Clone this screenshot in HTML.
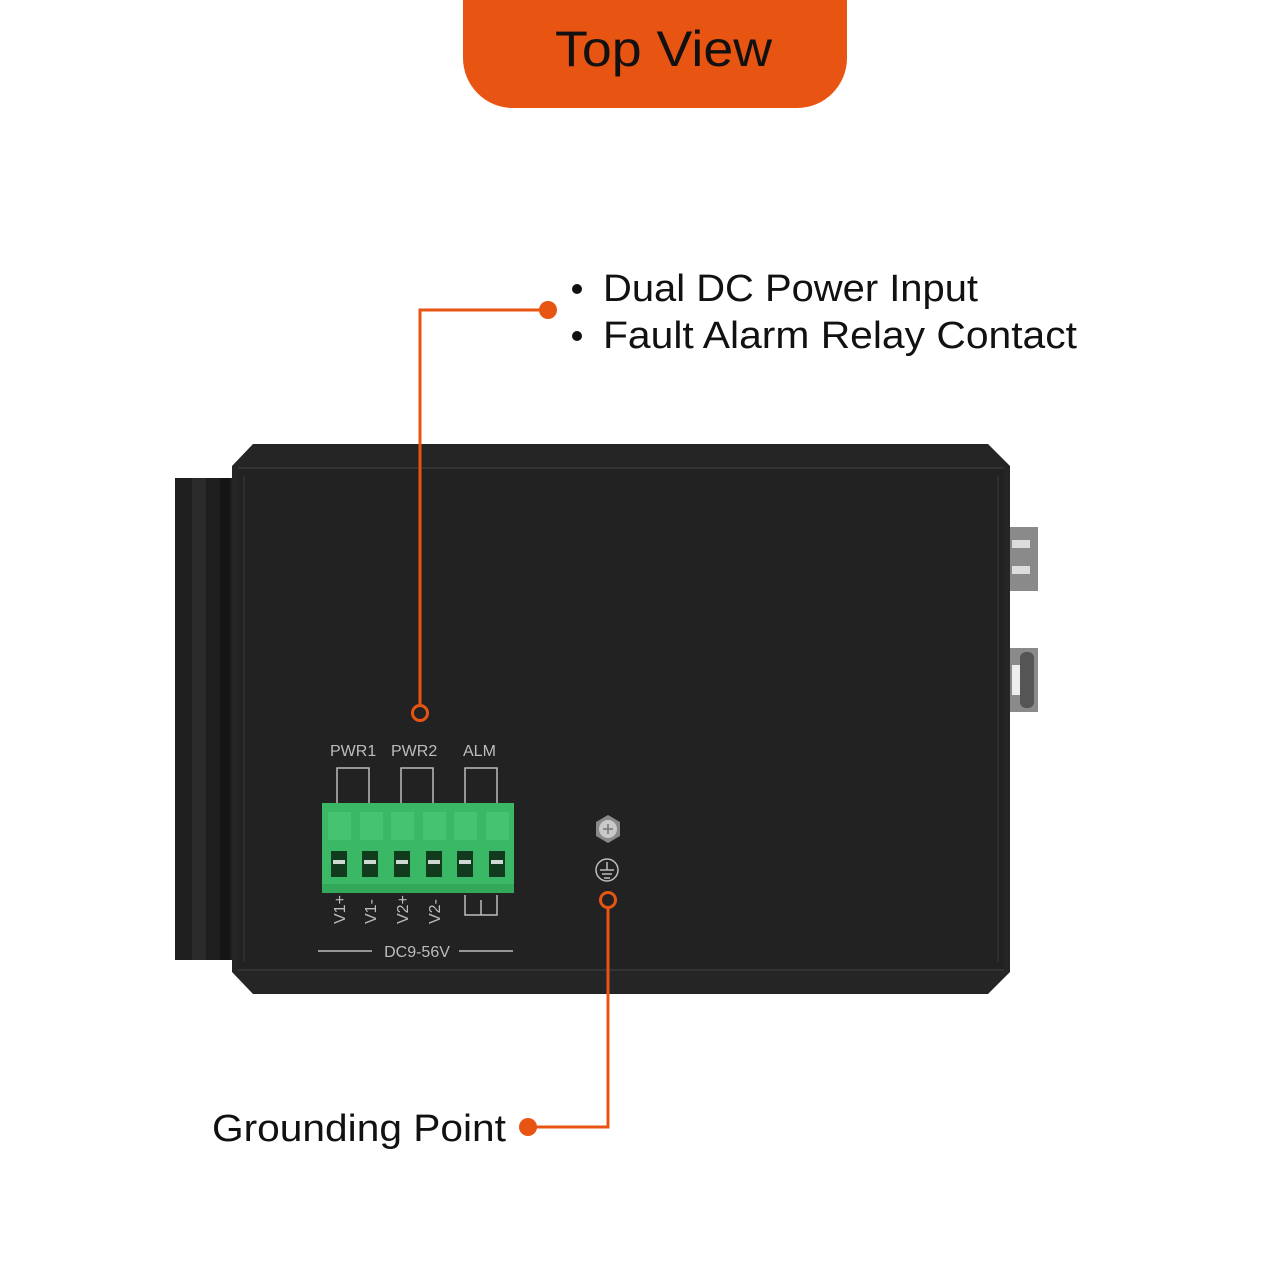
<!DOCTYPE html>
<html><head><meta charset="utf-8"><style>
html,body{margin:0;padding:0;background:#fff;width:1280px;height:1280px;overflow:hidden}
</style></head><body>
<svg width="1280" height="1280" viewBox="0 0 1280 1280" xmlns="http://www.w3.org/2000/svg" style="font-family:'Liberation Sans',sans-serif">
<path d="M463 0 H847 V58 A50 50 0 0 1 797 108 H513 A50 50 0 0 1 463 58 Z" fill="#e85412"/>
<text x="555" y="66" textLength="217" lengthAdjust="spacingAndGlyphs" font-size="50" fill="#111">Top View</text>

<rect x="175" y="478" width="58" height="482" fill="#1e1e1e"/>
<rect x="192" y="478" width="14" height="482" fill="#2b2b2b"/>
<rect x="220" y="478" width="10" height="482" fill="#141414"/>

<rect x="1008" y="527" width="30" height="64" fill="#8a8a8a"/>
<rect x="1012" y="540" width="18" height="8" fill="#ddd"/>
<rect x="1012" y="566" width="18" height="8" fill="#ddd"/>
<rect x="1008" y="648" width="30" height="64" fill="#8a8a8a"/>
<rect x="1012" y="665" width="12" height="30" fill="#eee"/>
<rect x="1020" y="652" width="14" height="56" rx="6" fill="#555"/>

<polygon points="253,444 988,444 1010,466 1010,972 988,994 253,994 232,972 232,466" fill="#252525"/>
<rect x="238" y="468" width="766" height="502" fill="#222"/>
<line x1="238" y1="468" x2="1004" y2="468" stroke="#333" stroke-width="2"/>
<line x1="238" y1="970" x2="1004" y2="970" stroke="#333" stroke-width="2"/>
<line x1="998" y1="476" x2="998" y2="962" stroke="#2e2e2e" stroke-width="2"/>
<line x1="244" y1="476" x2="244" y2="962" stroke="#2e2e2e" stroke-width="2"/>

<g fill="#bdbdbd" font-size="16">
<text x="330" y="756">PWR1</text>
<text x="391" y="756">PWR2</text>
<text x="463" y="756">ALM</text>
</g>
<g fill="none" stroke="#bdbdbd" stroke-width="1.5">
<path d="M337 803 V768 H369 V803"/>
<path d="M401 803 V768 H433 V803"/>
<path d="M465 803 V768 H497 V803"/>
<path d="M465 895 V915 H497 V895"/>
<path d="M481 915 V900"/>
<line x1="318" y1="951" x2="372" y2="951"/>
<line x1="459" y1="951" x2="513" y2="951"/>
<circle cx="607" cy="870" r="11"/>
<path d="M607 862 V870 M600 870 H614 M602 874 H612 M604 878 H610"/>
</g>
<text x="417" y="957" text-anchor="middle" fill="#bdbdbd" font-size="16">DC9-56V</text>
<g fill="#bdbdbd" font-size="16">
<text transform="translate(345,924) rotate(-90)">V1+</text>
<text transform="translate(376,924) rotate(-90)">V1-</text>
<text transform="translate(408,924) rotate(-90)">V2+</text>
<text transform="translate(440,924) rotate(-90)">V2-</text>
</g>

<rect x="322" y="803" width="192" height="90" fill="#3bb865"/>
<rect x="322" y="884" width="192" height="9" fill="#33a85a"/>
<g fill="#45c370">
<rect x="328" y="812" width="23" height="28"/><rect x="360" y="812" width="23" height="28"/>
<rect x="391" y="812" width="23" height="28"/><rect x="423" y="812" width="23" height="28"/>
<rect x="454" y="812" width="23" height="28"/><rect x="486" y="812" width="23" height="28"/>
</g>
<g fill="#123a1f">
<rect x="331" y="851" width="16" height="26"/><rect x="362" y="851" width="16" height="26"/>
<rect x="394" y="851" width="16" height="26"/><rect x="426" y="851" width="16" height="26"/>
<rect x="457" y="851" width="16" height="26"/><rect x="489" y="851" width="16" height="26"/>
</g>
<g fill="#cfd8d0">
<rect x="333" y="860" width="12" height="4"/><rect x="364" y="860" width="12" height="4"/>
<rect x="396" y="860" width="12" height="4"/><rect x="428" y="860" width="12" height="4"/>
<rect x="459" y="860" width="12" height="4"/><rect x="491" y="860" width="12" height="4"/>
</g>

<polygon points="608,815 620,822 620,836 608,843 596,836 596,822" fill="#8a8a8a"/>
<circle cx="608" cy="829" r="9" fill="#c9c9c9"/>
<path d="M603 829 H613 M608 824 V834" stroke="#777" stroke-width="1.5"/>

<g stroke="#e85412" stroke-width="3" fill="none">
<path d="M420 704 V310 H548"/>
<path d="M608 908 V1127 H528"/>
<circle cx="420" cy="713" r="7.5" fill="#222"/>
<circle cx="608" cy="900" r="7.5" fill="#222"/>
</g>
<circle cx="548" cy="310" r="9" fill="#e85412"/>
<circle cx="528" cy="1127" r="9" fill="#e85412"/>

<g font-size="38" fill="#111">
<circle cx="577" cy="289" r="5"/>
<circle cx="577" cy="336" r="5"/>
<text x="603" y="301" textLength="375" lengthAdjust="spacingAndGlyphs">Dual DC Power Input</text>
<text x="603" y="348" textLength="474" lengthAdjust="spacingAndGlyphs">Fault Alarm Relay Contact</text>
<text x="212" y="1141" textLength="294" lengthAdjust="spacingAndGlyphs">Grounding Point</text>
</g>
</svg>
</body></html>
